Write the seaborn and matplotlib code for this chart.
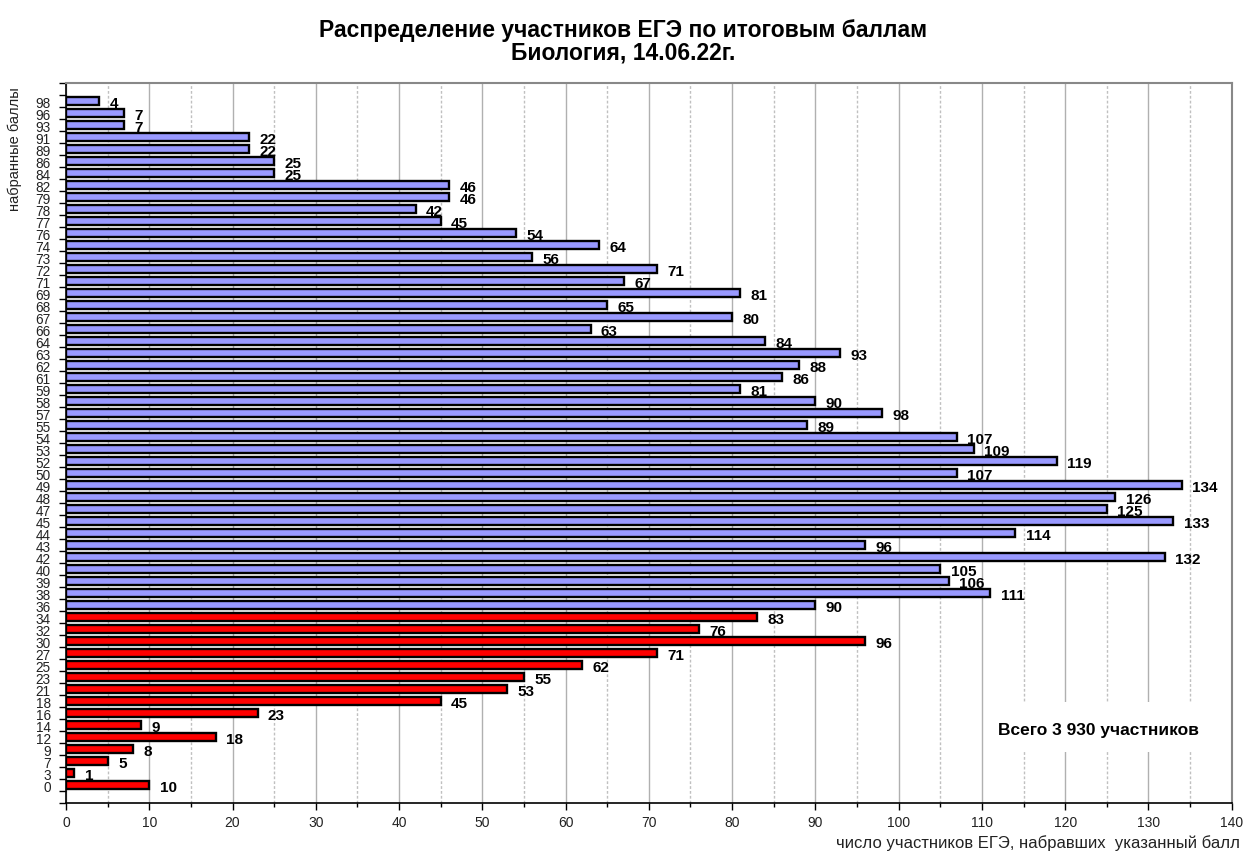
import numpy as np
import pandas as pd
import matplotlib
matplotlib.use("Agg")
import matplotlib.pyplot as plt
import seaborn as sns
from matplotlib.patches import Rectangle
from matplotlib.ticker import MultipleLocator, FixedLocator

# ---------- Data (top to bottom as in the chart) ----------
scores = [98, 96, 93, 91, 89, 86, 84, 82, 79, 78, 77, 76, 74, 73, 72, 71, 69, 68,
          67, 66, 64, 63, 62, 61, 59, 58, 57, 55, 54, 53, 52, 50, 49, 48, 47, 45,
          44, 43, 42, 40, 39, 38, 36, 34, 32, 30, 27, 25, 23, 21, 18, 16, 14, 12,
          9, 7, 3, 0]
counts = [4, 7, 7, 22, 22, 25, 25, 46, 46, 42, 45, 54, 64, 56, 71, 67, 81, 65,
          80, 63, 84, 93, 88, 86, 81, 90, 98, 89, 107, 109, 119, 107, 134, 126, 125, 133,
          114, 96, 132, 105, 106, 111, 90, 83, 76, 96, 71, 62, 55, 53, 45, 23, 9, 18,
          8, 5, 1, 10]
pass_score = 36
total_text = "Всего 3 930 участников"

df = pd.DataFrame({"score": [str(s) for s in scores], "count": counts})
df["group"] = np.where(np.array(scores) >= pass_score, "pass", "fail")

sns.set_theme(style="white")
plt.rcParams["font.family"] = ["Liberation Sans", "DejaVu Sans"]

fig = plt.figure(figsize=(12.46, 8.53), dpi=100)
ax = fig.add_axes([0.053, 0.0574, 0.9355, 0.8441])

sns.barplot(data=df, y="score", x="count", hue="group", order=df["score"],
            palette={"pass": "#9999FF", "fail": "#FF0000"}, dodge=False,
            width=0.62, edgecolor="black", linewidth=1.7, legend=False,
            orient="h", ax=ax, saturation=1)

n = len(scores)
ax.set_ylim(n + 0.5, -1.5)
ax.set_xlim(0, 140)

# grid
ax.xaxis.set_major_locator(MultipleLocator(10))
ax.xaxis.set_minor_locator(MultipleLocator(5))
ax.grid(axis="x", which="major", color="#b0b0b0", linestyle="-", linewidth=1)
ax.grid(axis="x", which="minor", color="#c0c0c0", linestyle=(0, (2, 1.5)), linewidth=1)
ax.set_axisbelow(True)

# white patch behind the total note (hides the grid there)
ax.add_patch(Rectangle((110.6, 50.1), 28.0, 4.15, facecolor="white",
                       edgecolor="none", zorder=0.9))
ax.text(124.0, 52.35, total_text, ha="center", va="center",
        fontsize=12.5, fontweight="bold", color="black", zorder=3)

# y ticks between categories
ax.yaxis.set_minor_locator(FixedLocator(np.arange(-1.5, n + 1.0, 1.0)))
ax.tick_params(axis="y", which="major", length=0, labelsize=9.8, pad=11, colors="#222222")
ax.tick_params(axis="y", which="minor", length=5, width=1, color="black", left=True)
ax.tick_params(axis="x", which="major", length=5, width=1, color="black", bottom=True,
               labelsize=10, colors="#222222")
ax.tick_params(axis="x", which="minor", length=3, width=1, color="black", bottom=True)

for side in ["top", "right"]:
    ax.spines[side].set_color("#888888")
    ax.spines[side].set_linewidth(1.5)
for side in ["left", "bottom"]:
    ax.spines[side].set_color("black")
    ax.spines[side].set_linewidth(1.2)

ax.set_xlabel("")
ax.set_ylabel("")

# value labels
for i, v in enumerate(counts):
    ax.text(v + 1.25, i + 0.15, str(v), va="center", ha="left",
            fontsize=11, fontweight="bold", color="black")

fig.text(0.5, 1 - 30 / 853, "Распределение участников ЕГЭ по итоговым баллам",
         ha="center", va="center", fontsize=16.5, fontweight="bold", color="black")
fig.text(0.5, 1 - 53 / 853, "Биология, 14.06.22г.",
         ha="center", va="center", fontsize=16.5, fontweight="bold", color="black")

fig.text(0.012, 0.825, "набранные баллы", rotation=90, ha="center", va="center",
         fontsize=10.5, color="#222222")
fig.text(0.995, 10 / 853, "число участников ЕГЭ, набравших  указанный балл",
         ha="right", va="center", fontsize=12, color="#222222")

fig.savefig("out.png", dpi=100)
